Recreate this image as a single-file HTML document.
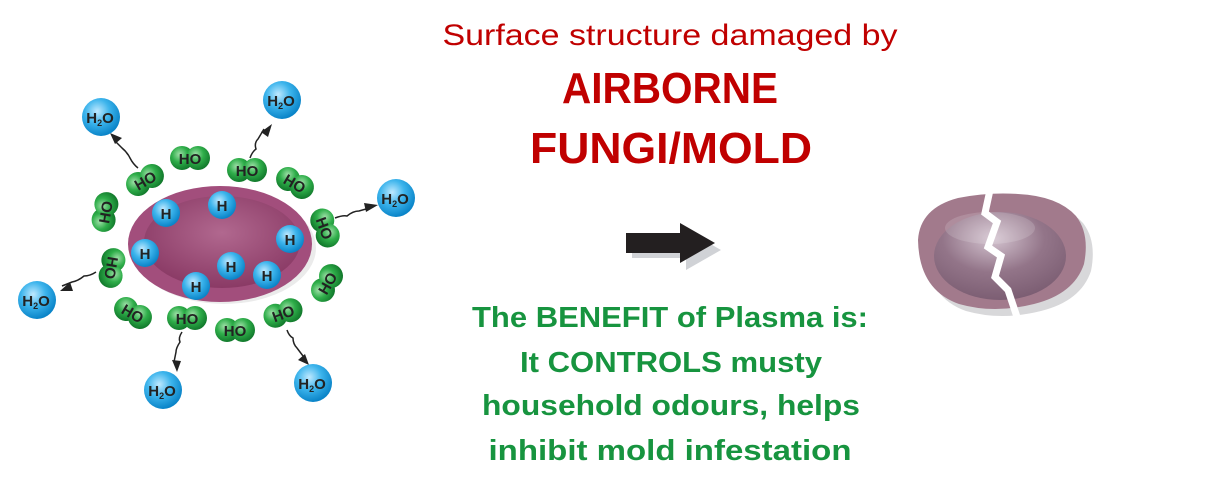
<!DOCTYPE html>
<html><head><meta charset="utf-8"><style>html,body{margin:0;padding:0;background:#fff}svg{display:block}</style></head><body>
<svg width="1205" height="496" viewBox="0 0 1205 496" xmlns="http://www.w3.org/2000/svg" font-family="Liberation Sans, sans-serif">
<defs>
<radialGradient id="blue" cx="40%" cy="35%" r="65%"><stop offset="0" stop-color="#bfe9ff"/><stop offset="0.5" stop-color="#3cb4ec"/><stop offset="1" stop-color="#0a84c8"/></radialGradient>
<radialGradient id="green" cx="40%" cy="35%" r="65%"><stop offset="0" stop-color="#9fe0a8"/><stop offset="0.5" stop-color="#2fae4a"/><stop offset="1" stop-color="#127a2c"/></radialGradient>
<radialGradient id="cell" cx="50%" cy="40%" r="60%"><stop offset="0" stop-color="#b1688f"/><stop offset="1" stop-color="#8a3a65"/></radialGradient>
<radialGradient id="shell" cx="45%" cy="30%" r="70%"><stop offset="0" stop-color="#d4c4d0"/><stop offset="0.55" stop-color="#937589"/><stop offset="1" stop-color="#7c5e73"/></radialGradient>
<g id="h2o"><circle r="19" fill="url(#blue)"/><text x="-1" y="6" font-size="15" font-weight="bold" text-anchor="middle" fill="#222">H<tspan font-size="9" dy="3">2</tspan><tspan dy="-3">O</tspan></text></g>
<g id="h"><circle r="14" fill="url(#blue)"/><text y="6" font-size="15" font-weight="bold" text-anchor="middle" fill="#222">H</text></g>
<g id="ho"><circle cx="-8" r="12" fill="url(#green)"/><circle cx="8" r="12" fill="url(#green)"/><text y="6" font-size="15" font-weight="bold" text-anchor="middle" fill="#222">HO</text></g>
</defs>
<ellipse cx="224" cy="248" rx="92" ry="56" fill="#ddd" opacity="0.6"/>
<ellipse cx="220" cy="244" rx="92" ry="58" fill="#a24e7c"/>
<ellipse cx="222" cy="242" rx="78" ry="46" fill="url(#cell)"/>
<g stroke="#222" stroke-width="1.5" fill="none">
<path d="M138 168 q-5 -4 -8 -10 q-3 -6 -8 -10 l-8 -8"/>
<path d="M250 158 q2 -6 6 -9 q-2 -6 2 -10 l6 -10"/>
<path d="M335 218 q8 -3 12 -2 q6 -5 12 -5 l14 -4"/>
<path d="M96 272 q-6 4 -12 4 q-6 5 -12 6 l-10 4"/>
<path d="M182 332 q-4 6 -2 10 q-4 6 -4 10 l-2 10"/>
<path d="M287 330 q2 6 6 8 q0 6 4 10 l6 8"/>
</g>
<g fill="#222">
<polygon points="110,133 122,138 115,144"/>
<polygon points="272,124 268,137 261,132"/>
<polygon points="378,205 366,212 364,203"/>
<polygon points="60,291 70,282 73,291"/>
<polygon points="177,372 172,360 181,361"/>
<polygon points="309,365 298,360 305,354"/>
</g>
<use href="#h2o" x="101" y="117"/><use href="#h2o" x="282" y="100"/><use href="#h2o" x="396" y="198"/>
<use href="#h2o" x="37" y="300"/><use href="#h2o" x="163" y="390"/><use href="#h2o" x="313" y="383"/>
<use href="#ho" transform="translate(145,180) rotate(-30)"/>
<use href="#ho" transform="translate(190,158)"/>
<use href="#ho" transform="translate(247,170)"/>
<use href="#ho" transform="translate(295,183) rotate(30)"/>
<use href="#ho" transform="translate(105,212) rotate(-80)"/>
<use href="#ho" transform="translate(325,228) rotate(70)"/>
<use href="#ho" transform="translate(112,268) rotate(100)"/>
<use href="#ho" transform="translate(327,283) rotate(-60)"/>
<use href="#ho" transform="translate(133,313) rotate(30)"/>
<use href="#ho" transform="translate(187,318)"/>
<use href="#ho" transform="translate(235,330)"/>
<use href="#ho" transform="translate(283,313) rotate(-20)"/>
<use href="#h" x="166" y="213"/><use href="#h" x="222" y="205"/><use href="#h" x="290" y="239"/>
<use href="#h" x="145" y="253"/><use href="#h" x="231" y="266"/><use href="#h" x="267" y="275"/><use href="#h" x="196" y="286"/>
<text x="670" y="45" font-size="30" fill="#c00000" text-anchor="middle" textLength="455" lengthAdjust="spacingAndGlyphs">Surface structure damaged by</text>
<text x="670" y="103" font-size="44" font-weight="bold" fill="#c00000" text-anchor="middle" textLength="216" lengthAdjust="spacingAndGlyphs">AIRBORNE</text>
<text x="671" y="163" font-size="44" font-weight="bold" fill="#c00000" text-anchor="middle" textLength="282" lengthAdjust="spacingAndGlyphs">FUNGI/MOLD</text>
<polygon points="632,240 686,240 686,230 721,250 686,270 686,258 632,258" fill="#d0d2d6"/>
<polygon points="626,233 680,233 680,223 715,243 680,263 680,253 626,253" fill="#231f20"/>
<g font-size="29" font-weight="bold" fill="#17943f" text-anchor="middle">
<text x="670" y="327" textLength="396" lengthAdjust="spacingAndGlyphs">The BENEFIT of Plasma is:</text>
<text x="671" y="372" textLength="302" lengthAdjust="spacingAndGlyphs">It CONTROLS musty</text>
<text x="671" y="415" textLength="378" lengthAdjust="spacingAndGlyphs">household odours, helps</text>
<text x="670" y="460" textLength="363" lengthAdjust="spacingAndGlyphs">inhibit mold infestation</text>
</g>
<!-- broken shell -->
<path d="M918 240 q2 -32 40 -42 q30 -6 60 -4 q40 2 58 22 q14 18 8 48 q-10 30 -50 40 q-40 10 -75 0 q-40 -14 -41 -64z" fill="#d8d8da" transform="translate(7,7)"/>
<path d="M918 240 q2 -32 40 -42 q30 -6 60 -4 q40 2 58 22 q14 18 8 48 q-10 30 -50 40 q-40 10 -75 0 q-40 -14 -41 -64z" fill="#a27a8c"/>
<ellipse cx="1000" cy="256" rx="66" ry="44" fill="url(#shell)"/>
<ellipse cx="990" cy="228" rx="45" ry="16" fill="#fff" opacity="0.15"/>
<polyline points="990,190 985,213 997,222 988,247 1001,256 995,277 1008,290 1018,320" fill="none" stroke="#fff" stroke-width="7" stroke-linejoin="miter"/>
</svg>
</body></html>
